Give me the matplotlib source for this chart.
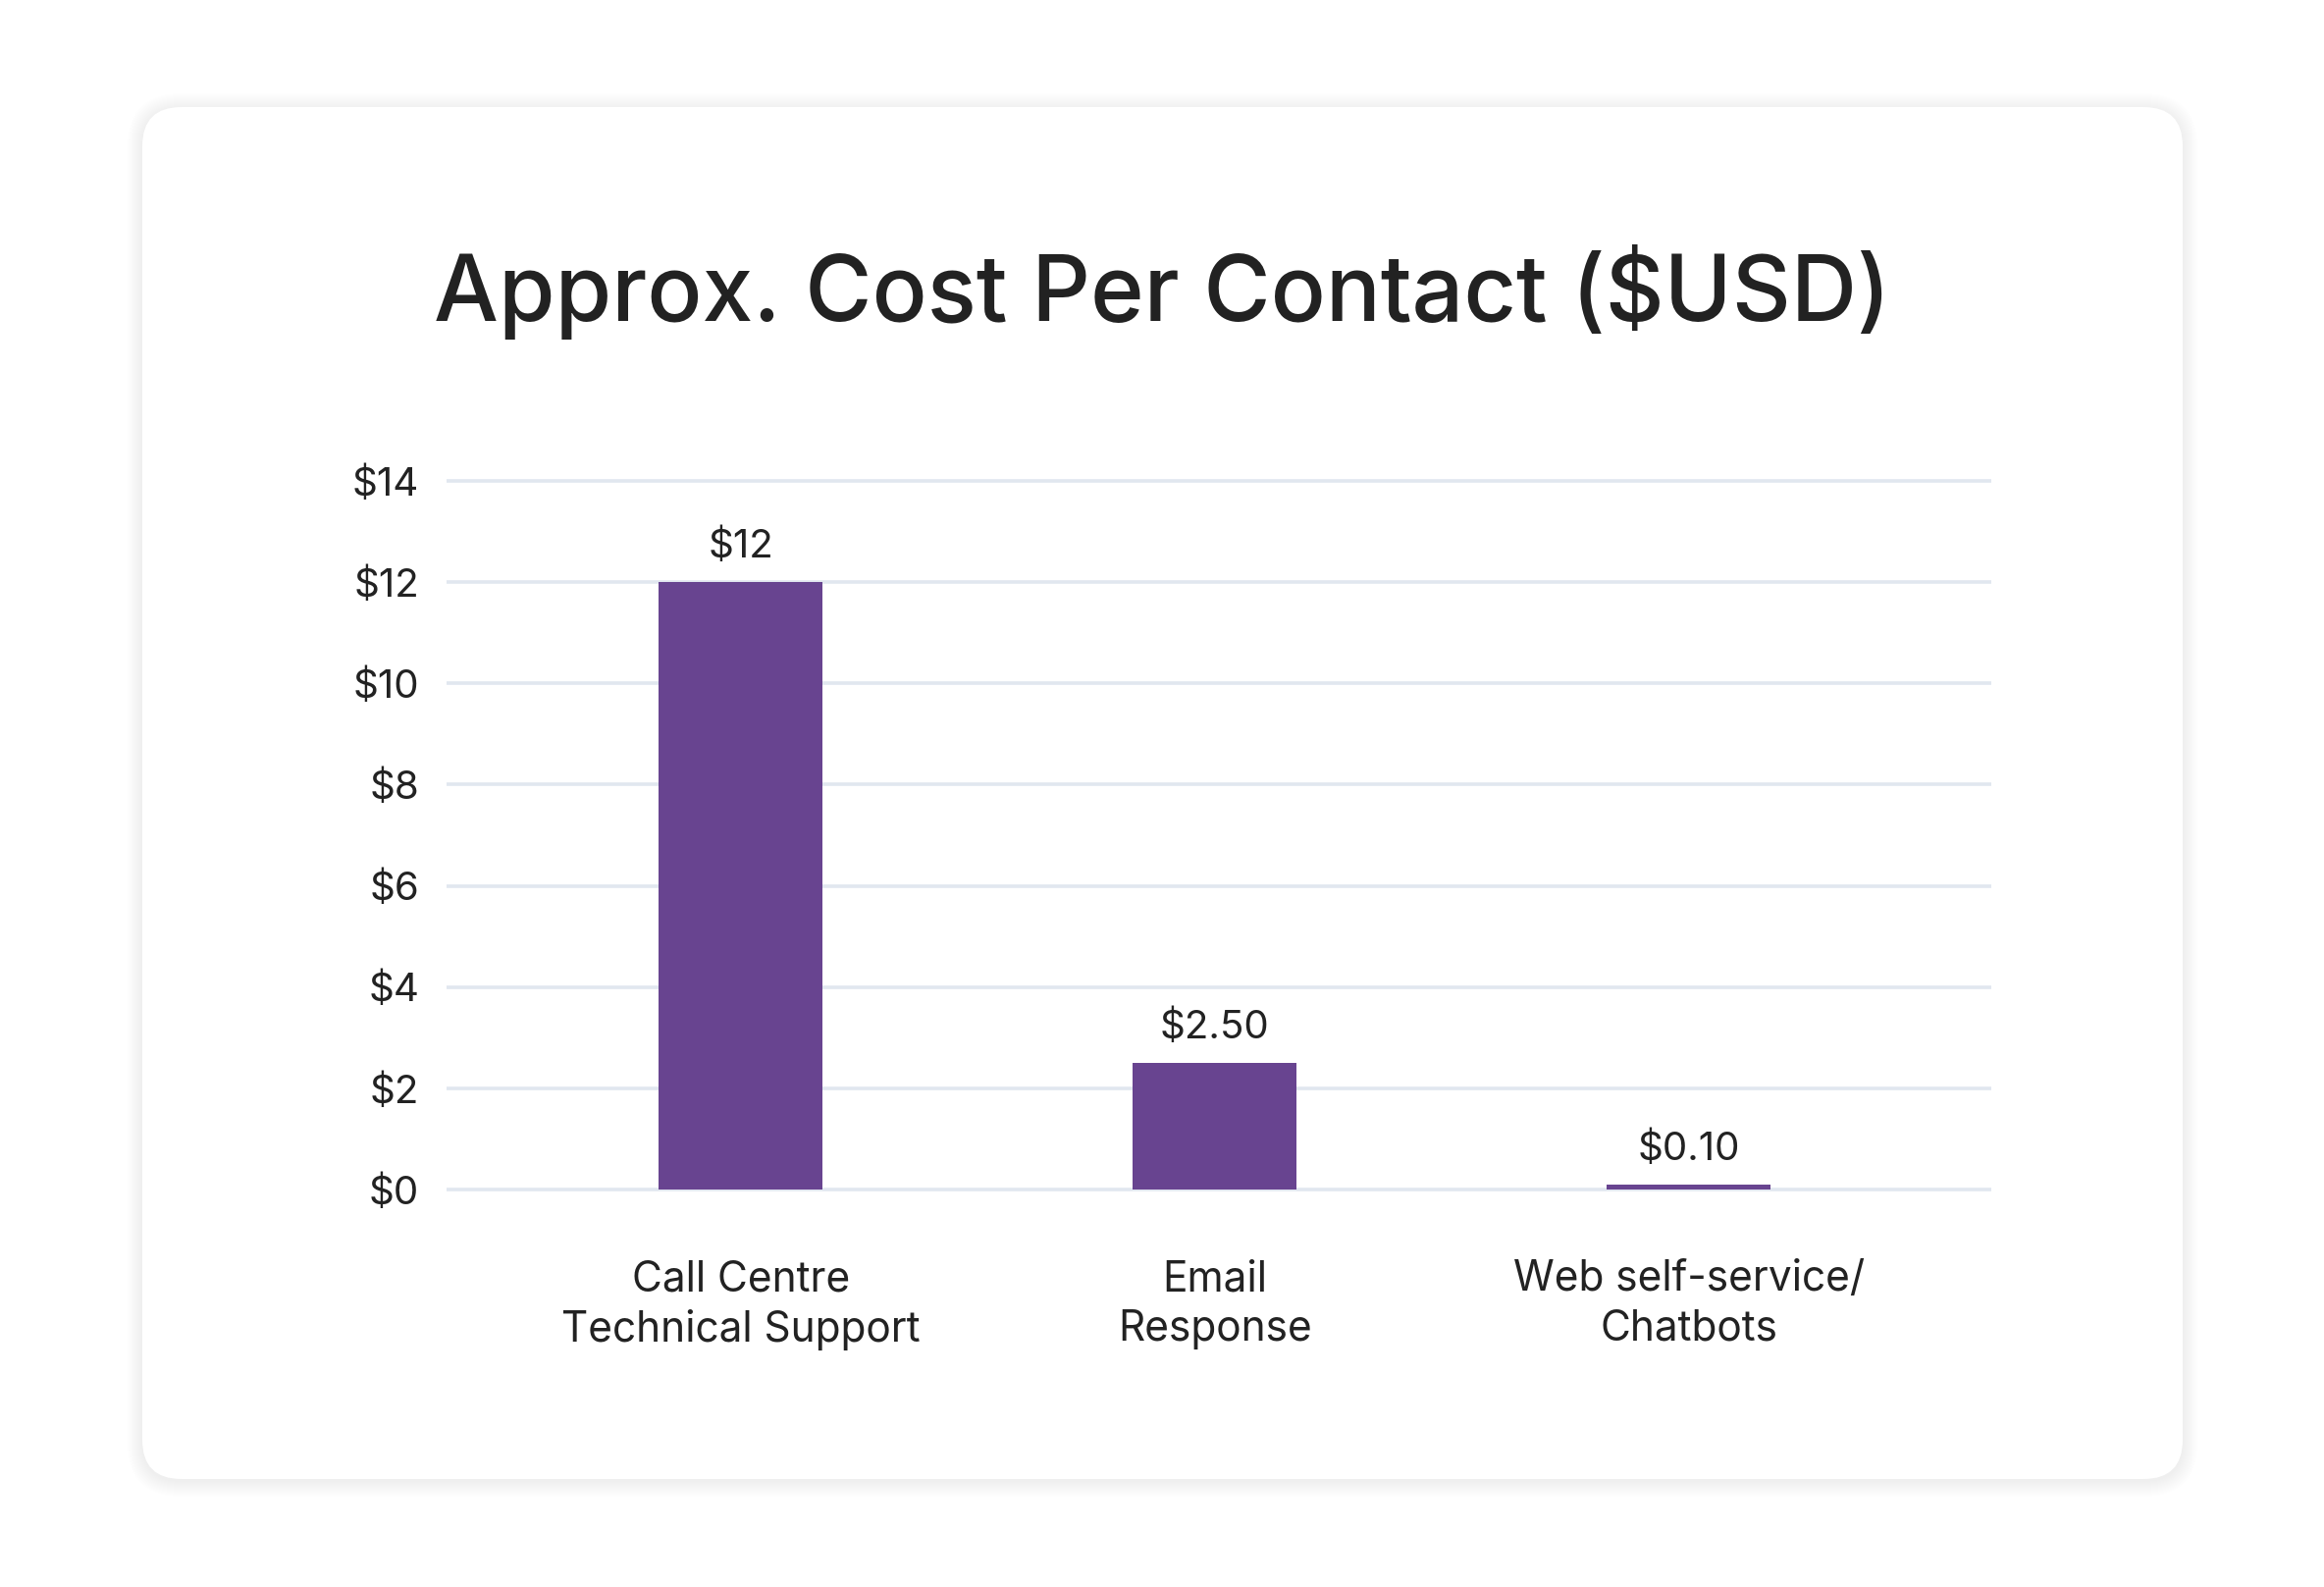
import numpy as np
import matplotlib
matplotlib.use("Agg")
import matplotlib.pyplot as plt
from matplotlib.patches import FancyBboxPatch

# data
categories = ["Call Centre\nTechnical Support", "Email\nResponse", "Web self-service/\nChatbots"]
costs = [12, 2.5, 0.1]
cost_labels = ["$12", "$2.50", "$0.10"]
yticks = [0, 2, 4, 6, 8, 10, 12, 14]
ytick_labels = ["$%d" % v for v in yticks]

W, H = 2368, 1617
BAR = "#684490"
TXT = "#222222"
GRID = "#e1e7ef"

plt.rcParams['font.family'] = ['Inter', 'DejaVu Sans']

fig = plt.figure(figsize=(W / 100, H / 100), dpi=100)
fig.patch.set_facecolor("white")

# card with soft shadow, drawn in pixel coords
bg = fig.add_axes([0, 0, 1, 1], zorder=0)
bg.set_xlim(0, W)
bg.set_ylim(H, 0)
bg.axis("off")
cx0, cy0, cx1, cy1 = 145, 109, 2224, 1507
for i in range(16, 0, -1):
    bg.add_patch(FancyBboxPatch((cx0 - i, cy0 - i + 2), cx1 - cx0 + 2 * i, cy1 - cy0 + 2 * i,
                                boxstyle="round,pad=0,rounding_size=%d" % (40 + i),
                                fc="#000000", ec="none", alpha=0.004))
bg.add_patch(FancyBboxPatch((cx0, cy0), cx1 - cx0, cy1 - cy0,
                            boxstyle="round,pad=0,rounding_size=40",
                            fc="white", ec="none"))

fig.text(0.5, 1 - 327 / H, "Approx. Cost Per Contact ($USD)", ha="center", va="baseline",
         fontsize=67, fontweight="medium", color=TXT)

# main axes
ax = fig.add_axes([455 / W, 1 - 1227.5 / H, (2029 - 455) / W, (1227.5 - 474.5) / H], zorder=1)
ax.patch.set_alpha(0)
x = np.arange(len(categories))
bars = ax.bar(x, costs, width=0.346, color=BAR, zorder=3)
for b, lab in zip(bars, cost_labels):
    ax.annotate(lab, (b.get_x() + b.get_width() / 2, b.get_height()), xytext=(0, 18),
                textcoords="offset points", ha="center", va="baseline", fontsize=29, color=TXT)

ax.set_xlim(-0.621, 2.638)
ax.set_ylim(-0.3, 14.3)
ax.set_yticks(yticks)
ax.set_yticklabels(ytick_labels)
for v in yticks:
    ax.axhline(v, color=GRID, lw=2.6, zorder=1, solid_capstyle="round")
ax.set_xticks(x)
ax.set_xticklabels(categories, linespacing=1.3)
ax.tick_params(axis="both", length=0, labelsize=29, colors=TXT)
ax.tick_params(axis="x", labelsize=30.5, pad=40)
ax.tick_params(axis="y", pad=20)
for s in ax.spines.values():
    s.set_visible(False)

fig.savefig("out.png", dpi=100, facecolor="white")
